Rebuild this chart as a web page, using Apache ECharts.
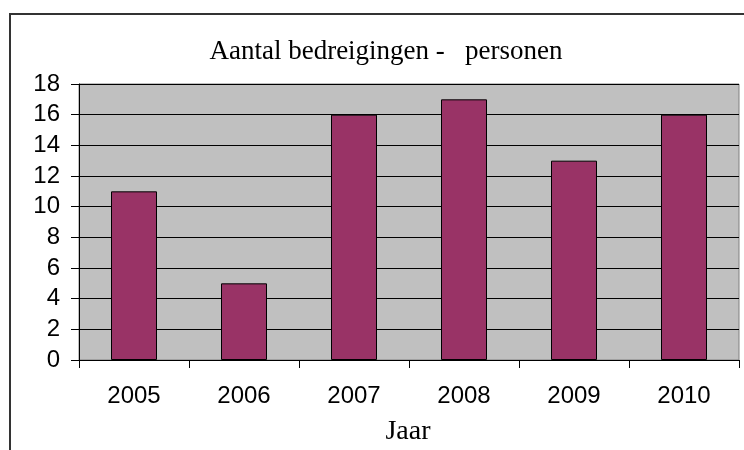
<!DOCTYPE html>
<html>
<head>
<meta charset="utf-8">
<script src="https://cdn.jsdelivr.net/npm/echarts@6/dist/echarts.min.js"></script>
<style>html,body{margin:0;padding:0;background:#fff;}#c{width:744px;height:450px;}</style>
</head>
<body>
<div id="c"></div>
<script>
var categories = ['2005', '2006', '2007', '2008', '2009', '2010'];
var values = [11, 5, 16, 17, 13, 16];
var chartTitle = 'Aantal bedreigingen -   personen';
var xAxisTitle = 'Jaar';

var chart = echarts.init(document.getElementById('c'), null, {renderer: 'canvas'});
chart.setOption({
  animation: false,
  backgroundColor: '#ffffff',
  grid: {
    left: 79, top: 84, right: 5, bottom: 90,
    show: true, backgroundColor: '#C0C0C0', borderColor: '#808080', borderWidth: 1
  },
  xAxis: {
    type: 'category',
    data: categories,
    boundaryGap: true,
    axisLine: {lineStyle: {color: '#000', width: 1}},
    axisTick: {show: true, length: 8, lineStyle: {color: '#000'}},
    axisLabel: {color: '#000', fontFamily: 'Liberation Sans', fontSize: 24, margin: 24}
  },
  yAxis: {
    type: 'value',
    min: 0, max: 18, interval: 2,
    axisLine: {show: true, lineStyle: {color: '#000', width: 1}},
    axisTick: {show: true, length: 8, lineStyle: {color: '#000'}},
    axisLabel: {color: '#000', fontFamily: 'Liberation Sans', fontSize: 24, margin: 19},
    splitLine: {show: true, lineStyle: {color: '#000', width: 1}}
  },
  series: [{
    type: 'bar',
    data: values,
    barWidth: 46,
    itemStyle: {color: '#993366', borderColor: '#000', borderWidth: 1}
  }],
  graphic: [
    {type: 'rect', shape: {x: 10, y: 14, width: 800, height: 500}, style: {fill: 'none', stroke: '#333', lineWidth: 2}, z: -10, silent: true},
    {type: 'text', x: 386, y: 52, style: {text: chartTitle, font: '27px "Liberation Serif"', fill: '#000', textAlign: 'center', textVerticalAlign: 'middle'}},
    {type: 'text', x: 408, y: 432, style: {text: xAxisTitle, font: '28px "Liberation Serif"', fill: '#000', textAlign: 'center', textVerticalAlign: 'middle'}}
  ]
});
</script>
</body>
</html>
